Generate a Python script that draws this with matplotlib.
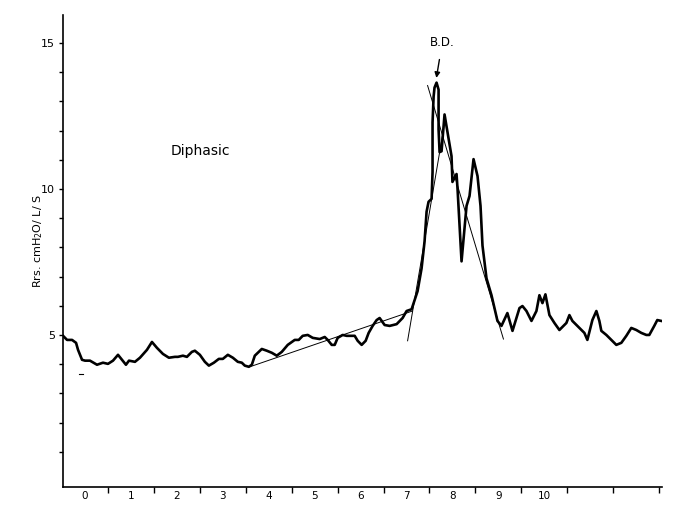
import matplotlib
matplotlib.use("Agg")
import matplotlib.pyplot as plt
import numpy as np

# Rrs trace (minutes, cmH2O/L/s)
t = [-0.476, -0.389, -0.28, -0.193, -0.15, -0.063, 0.002, 0.11, 0.263, 0.393,
     0.502, 0.611, 0.72, 0.807, 0.893, 0.959, 1.089, 1.198, 1.35, 1.459,
     1.567, 1.698, 1.828, 1.959, 2.024, 2.133, 2.22, 2.328, 2.393, 2.502,
     2.611, 2.698, 2.807, 2.915, 3.002, 3.111, 3.22, 3.328, 3.415, 3.48,
     3.567, 3.633, 3.698, 3.85, 3.959, 4.067, 4.176, 4.285, 4.415, 4.567,
     4.654, 4.741, 4.85, 4.959, 5.111, 5.22, 5.285, 5.372, 5.437, 5.502,
     5.611, 5.698, 5.807, 5.872, 5.937, 6.024, 6.111, 6.176, 6.263, 6.35,
     6.415, 6.524, 6.633, 6.785, 6.915, 7.002, 7.111, 7.176, 7.241, 7.328,
     7.393, 7.437, 7.48, 7.546, 7.567, 7.567, 7.59, 7.61, 7.654, 7.698,
     7.698, 7.72, 7.763, 7.828, 7.893, 7.98, 8.0, 8.089, 8.111, 8.198,
     8.263, 8.307, 8.372, 8.459, 8.546, 8.611, 8.654, 8.741, 8.85, 8.915,
     8.98, 9.067, 9.196, 9.307, 9.459, 9.524, 9.611, 9.72, 9.828, 9.893,
     9.959, 10.024, 10.111, 10.22, 10.328, 10.48, 10.546, 10.611, 10.763, 10.872,
     10.937, 11.046, 11.133, 11.198, 11.241, 11.35, 11.459, 11.567, 11.676, 11.785,
     11.893, 12.002, 12.111, 12.22, 12.285, 12.393, 12.459, 12.546]
rrs = [4.97, 4.83, 4.83, 4.73, 4.49, 4.15, 4.12, 4.12, 3.98, 4.05,
       4.01, 4.12, 4.32, 4.15, 3.98, 4.12, 4.08, 4.22, 4.49, 4.76,
       4.56, 4.35, 4.22, 4.25, 4.25, 4.29, 4.25, 4.42, 4.46, 4.32,
       4.08, 3.95, 4.05, 4.18, 4.18, 4.32, 4.22, 4.08, 4.05, 3.95,
       3.91, 3.98, 4.29, 4.52, 4.46, 4.39, 4.29, 4.42, 4.66, 4.83,
       4.83, 4.97, 5.0, 4.9, 4.86, 4.93, 4.83, 4.66, 4.66, 4.9,
       5.0, 4.97, 4.97, 4.97, 4.8, 4.66, 4.8, 5.07, 5.31, 5.51,
       5.58, 5.34, 5.31, 5.37, 5.58, 5.82, 5.88, 6.19, 6.5, 7.28,
       8.2, 9.22, 9.56, 9.66, 10.58, 12.28, 13.16, 13.47, 13.64, 13.4,
       12.04, 11.26, 11.29, 12.55, 11.94, 11.12, 10.24, 10.51, 10.0, 7.52,
       8.64, 9.42, 9.76, 11.02, 10.44, 9.42, 8.06, 6.94, 6.36, 5.92,
       5.48, 5.31, 5.75, 5.14, 5.92, 5.99, 5.82, 5.48, 5.82, 6.36,
       6.09, 6.39, 5.68, 5.41, 5.17, 5.41, 5.68, 5.48, 5.24, 5.07,
       4.83, 5.51, 5.82, 5.48, 5.14, 5.0, 4.83, 4.66, 4.73, 4.97,
       5.24, 5.17, 5.07, 5.0, 5.0, 5.31, 5.51, 5.48]

# hand-drawn tangent lines (start, end)
base_line = ([3.59, 7.13], [3.91, 5.82])
rise_line = ([7.024, 7.85], [4.8, 12.45])
fall_line = ([7.459, 9.11], [13.54, 4.86])

x_labels = [str(i) for i in range(11)]
y_ticks = list(range(1, 16))
y_labels = ["5", "10", "15"]

fig = plt.figure(figsize=(6.81, 5.05), dpi=100)
ax = fig.add_axes([0.093, 0.036, 0.879, 0.934])

ax.plot(t, rrs, color="black", lw=1.9, solid_joinstyle="round")
for xs, ys in (base_line, rise_line, fall_line):
    ax.plot(xs, ys, color="black", lw=0.7)

# stray mark left on the record
ax.plot([-0.13, -0.05], [3.67, 3.67], color="black", lw=0.8)

ax.text(2.52, 11.29, "Diphasic", ha="center", va="center", fontsize=10)
ax.annotate("B.D.", xy=(7.65, 13.8), xytext=(7.78, 15.03),
            ha="center", va="center", fontsize=8.5,
            arrowprops=dict(arrowstyle="-|>", color="black", lw=1,
                            mutation_scale=8, shrinkA=6, shrinkB=0))

ax.set_xlim(-0.47, 12.56)
ax.set_ylim(-0.2, 15.95)

# ticks sit between the minute labels
ax.set_xticks(np.arange(0.5, 13, 1.0))
ax.set_xticklabels([])
ax.set_xticks(np.arange(len(x_labels)), minor=True)
ax.set_xticklabels(x_labels, minor=True, fontsize=7.5)
ax.tick_params(axis="x", which="major", direction="out", length=4, width=1)
ax.tick_params(axis="x", which="minor", length=0, pad=3)

ax.set_yticks(y_ticks)
ax.set_yticklabels([str(v) if str(v) in y_labels else "" for v in y_ticks],
                   fontsize=8)
ax.tick_params(axis="y", direction="out", length=3, width=1, pad=3)

ax.spines["top"].set_visible(False)
ax.spines["right"].set_visible(False)
ax.spines["left"].set_linewidth(1.2)
ax.spines["bottom"].set_linewidth(1.2)

ax.set_ylabel("Rrs. cmH$_2$O/ L/ S", fontsize=8)
ax.yaxis.set_label_coords(-0.03, 0.52)

fig.savefig("out.png", dpi=100)
